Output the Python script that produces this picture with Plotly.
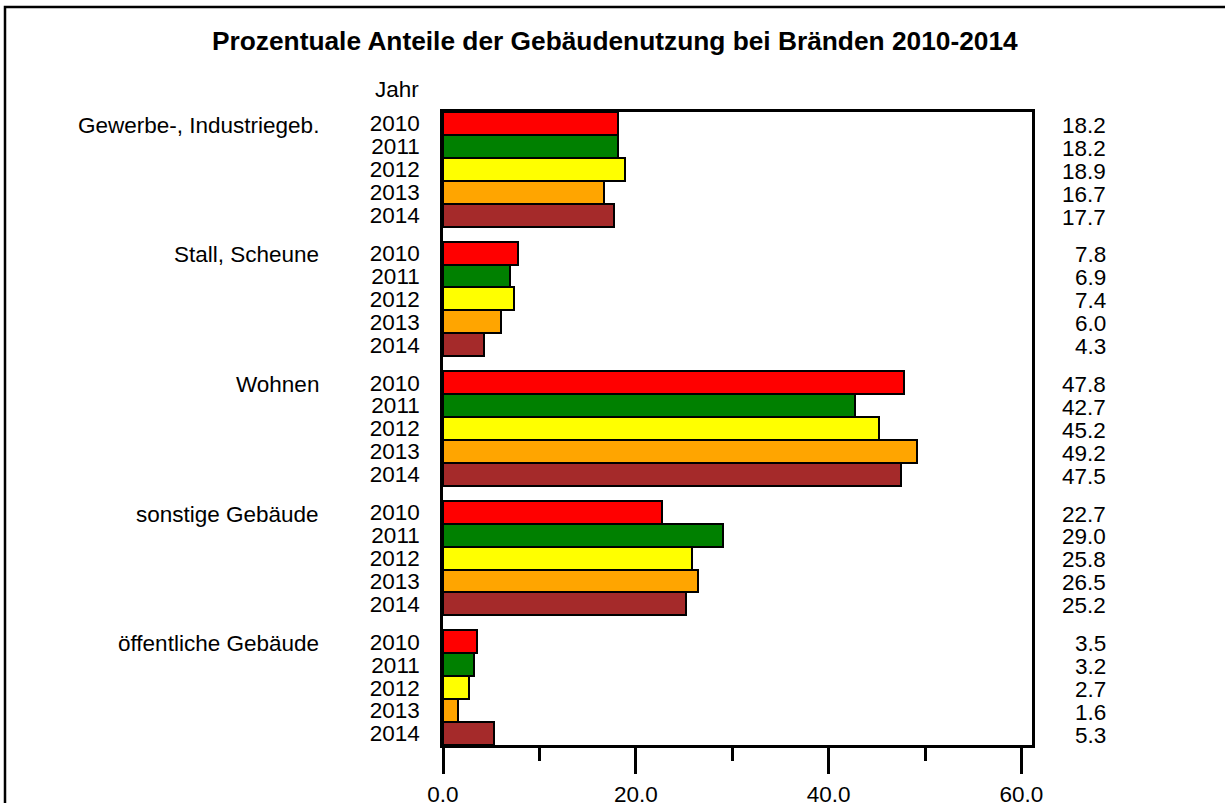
import plotly.graph_objects as go

title = "Prozentuale Anteile der Gebäudenutzung bei Bränden 2010-2014"
groups = ["Gewerbe-, Industriegeb.", "Stall, Scheune", "Wohnen", "sonstige Gebäude", "öffentliche Gebäude"]
years = ["2010", "2011", "2012", "2013", "2014"]
colors = ["#FF0000", "#008000", "#FFFF00", "#FFA500", "#A52A2A"]

v2010 = [18.2, 7.8, 47.8, 22.7, 3.5]
v2011 = [18.2, 6.9, 42.7, 29.0, 3.2]
v2012 = [18.9, 7.4, 45.2, 25.8, 2.7]
v2013 = [16.7, 6.0, 49.2, 26.5, 1.6]
v2014 = [17.7, 4.3, 47.5, 25.2, 5.3]
series = [v2010, v2011, v2012, v2013, v2014]

x_ticks = [0, 20, 40, 60]
x_ticktext = ["0.0", "20.0", "40.0", "60.0"]
x_minor = [10, 30, 50]

FONT = "Liberation Sans, Arial, sans-serif"
FS = 22.5
W, H = 1225, 803
L, R, T, B = 443, 1032, 112, 745
GSTEP = 5.65
PX_PER_UNIT = (1021.7 - 443.3) / 60

fig = go.Figure()
tickvals, ticktext = [], []
for yi, (yr, vals, col) in enumerate(zip(years, series, colors)):
    ypos = [g * GSTEP + yi for g in range(len(groups))]
    tickvals += ypos
    ticktext += [yr] * len(groups)
    fig.add_trace(go.Bar(
        x=vals, y=ypos, orientation="h", width=1.0,
        marker=dict(color=col, line=dict(color="black", width=2)),
        showlegend=False, hoverinfo="x", name=yr,
    ))

annotations = []
pw = R - L
ph = B - T
def px2x(px):
    return (px - L) / pw
def py2y(py):
    return (B - py) / ph

for g, name in enumerate(groups):
    annotations.append(dict(xref="paper", yref="y", x=px2x(321), y=g * GSTEP + 0.08,
                            text=name, showarrow=False, xanchor="right", yanchor="middle",
                            font=dict(family=FONT, size=FS, color="black")))
    for yi, vals in enumerate(series):
        annotations.append(dict(xref="paper", yref="y", x=px2x(1108), y=g * GSTEP + yi + 0.08,
                                text=f"{vals[g]:.1f}", showarrow=False, xanchor="right", yanchor="middle",
                                font=dict(family=FONT, size=FS, color="black")))

annotations.append(dict(xref="paper", yref="paper", x=px2x(421), y=py2y(89),
                        text="Jahr", showarrow=False, xanchor="right", yanchor="middle",
                        font=dict(family=FONT, size=FS, color="black")))
annotations.append(dict(xref="paper", yref="paper", x=px2x(615), y=py2y(41),
                        text="<b>" + title + "</b>", showarrow=False, xanchor="center", yanchor="middle",
                        font=dict(family=FONT, size=26.3, color="black")))

ymax = (len(groups) - 1) * GSTEP + len(years) - 1

fig.update_layout(
    width=W, height=H,
    margin=dict(l=L, r=W - R, t=T, b=H - B, pad=0, autoexpand=False),
    paper_bgcolor="white", plot_bgcolor="white",
    bargap=0,
    font=dict(family=FONT, size=FS, color="black"),
    annotations=annotations,
    shapes=[dict(type="rect", xref="paper", yref="paper",
                 x0=px2x(5), y0=-0.5, x1=1.5, y1=py2y(7),
                 line=dict(color="black", width=2.5), fillcolor="rgba(0,0,0,0)")],
    xaxis=dict(range=[0, (R - L) / PX_PER_UNIT], showgrid=False, zeroline=False, automargin=False,
               showline=True, mirror=True, linecolor="black", linewidth=2.5,
               tickvals=x_ticks, ticktext=x_ticktext, ticks="outside", ticklen=26,
               tickwidth=2.5, tickcolor="black", ticklabelstandoff=1,
               tickfont=dict(family=FONT, size=FS, color="black"),
               minor=dict(tickvals=x_minor, ticks="outside", ticklen=13,
                          tickwidth=2.5, tickcolor="black")),
    yaxis=dict(range=[ymax + 0.5, -0.5], showgrid=False, zeroline=False, automargin=False,
               showline=True, mirror=True, linecolor="black", linewidth=2.5,
               tickvals=tickvals, ticktext=ticktext, ticks="", ticklabelstandoff=16,
               tickfont=dict(family=FONT, size=FS, color="black")),
)

fig.write_html("out.html", config={"displayModeBar": False},
               post_script="document.body.style.margin='0';document.body.style.overflow='hidden';")
